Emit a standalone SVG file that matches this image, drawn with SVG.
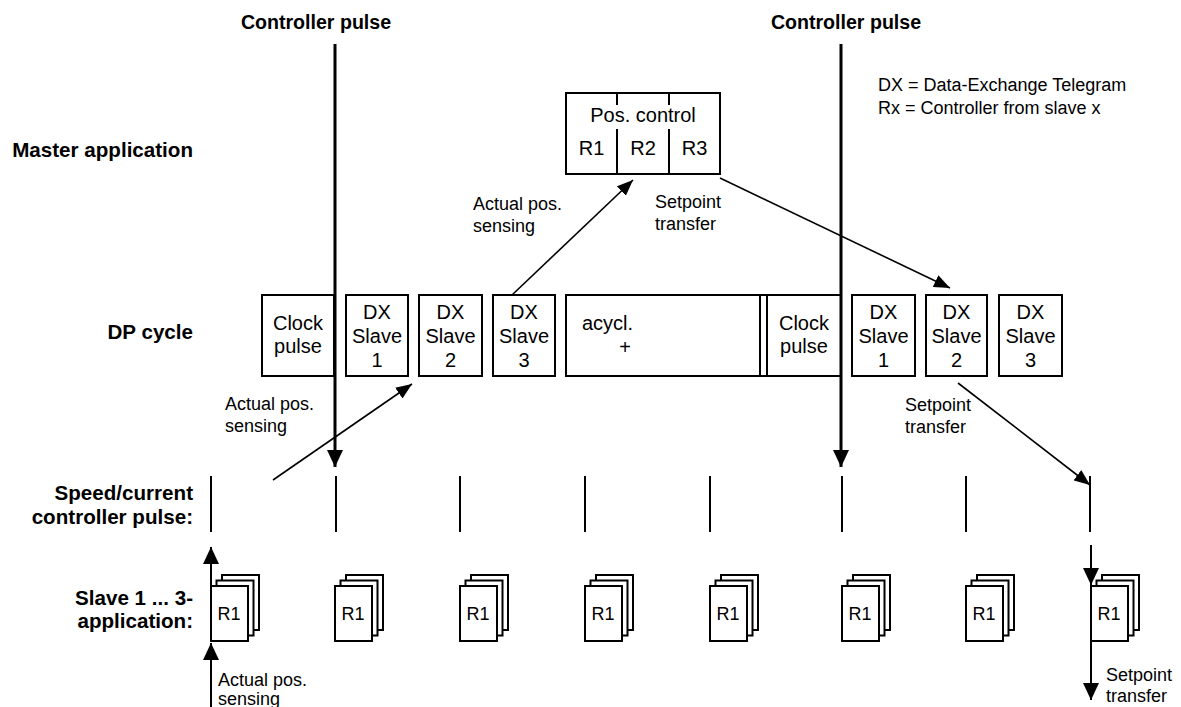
<svg xmlns="http://www.w3.org/2000/svg" width="1181" height="707" viewBox="0 0 1181 707">
<style>
text{font-family:"Liberation Sans",Arial,sans-serif;fill:#000}
.b{font-weight:bold;font-size:20.6px}
.t{font-size:20px;text-anchor:middle}
.s{font-size:18px}
.box{fill:#fff;stroke:#000;stroke-width:2}
.pg{fill:#fff;stroke:#000;stroke-width:2}
.thick{stroke:#000;stroke-width:3;fill:none}
.thin{stroke:#000;stroke-width:1.6;fill:none}
.tick{stroke:#000;stroke-width:2;fill:none}
</style>
<defs>
<marker id="big" markerUnits="userSpaceOnUse" viewBox="0 0 17 16" refX="17" refY="8" markerWidth="17" markerHeight="16" orient="auto"><path d="M0,0 L17,8 L0,16 z" fill="#000"/></marker>
<marker id="sm" markerUnits="userSpaceOnUse" viewBox="0 0 16 13" refX="16" refY="6.5" markerWidth="16" markerHeight="13" orient="auto"><path d="M0,0 L16,6.5 L0,13 z" fill="#000"/></marker>
</defs>
<rect width="1181" height="707" fill="#fff"/>

<g id="row-labels">
<text class="b" style="font-size:19.6px" x="316" y="29" text-anchor="middle">Controller pulse</text>
<text class="b" style="font-size:19.6px" x="846" y="29" text-anchor="middle">Controller pulse</text>
<text class="b" x="193" y="157" text-anchor="end">Master application</text>
<text class="b" x="193" y="339" text-anchor="end">DP cycle</text>
<text class="b" x="193" y="500" text-anchor="end">Speed/current</text>
<text class="b" x="193" y="524" text-anchor="end">controller pulse:</text>
<text class="b" x="193" y="605" text-anchor="end">Slave 1 ... 3-</text>
<text class="b" x="193" y="628" text-anchor="end">application:</text>
</g>

<g id="legend">
<text class="s" x="878" y="91">DX = Data-Exchange Telegram</text>
<text class="s" x="878" y="114">Rx = Controller from slave x</text>
</g>

<g id="pos-control">
<rect class="box" x="566" y="93" width="154" height="81"/>
<path class="tick" d="M617,93 V105 M669,93 V105 M617,129 V174 M669,129 V174"/>
<text class="t" x="643" y="122">Pos. control</text>
<text class="t" x="591.5" y="155">R1</text>
<text class="t" x="643" y="155">R2</text>
<text class="t" x="694.5" y="155">R3</text>
</g>

<g id="dp-cycle">
<g id="clock1"><rect class="box" x="262" y="295" width="72" height="81"/><text class="t" x="298" y="330">Clock</text><text class="t" x="298" y="353">pulse</text></g>
<g id="dx1a"><rect class="box" x="346" y="295" width="62" height="81"/><text class="t" x="377" y="319">DX</text><text class="t" x="377" y="343">Slave</text><text class="t" x="377" y="367">1</text></g>
<g id="dx2a"><rect class="box" x="419" y="295" width="63" height="81"/><text class="t" x="450.5" y="319">DX</text><text class="t" x="450.5" y="343">Slave</text><text class="t" x="450.5" y="367">2</text></g>
<g id="dx3a"><rect class="box" x="493" y="295" width="62" height="81"/><text class="t" x="524" y="319">DX</text><text class="t" x="524" y="343">Slave</text><text class="t" x="524" y="367">3</text></g>
<g id="acycl"><rect class="box" x="566" y="295" width="201" height="81"/><line class="tick" x1="760" y1="295" x2="760" y2="376"/><text style="font-size:20px" x="582" y="330">acycl.</text><text class="t" x="625" y="354">+</text></g>
<g id="clock2"><rect class="box" x="767" y="295" width="74" height="81"/><text class="t" x="804" y="330">Clock</text><text class="t" x="804" y="353">pulse</text></g>
<g id="dx1b"><rect class="box" x="852" y="295" width="63" height="81"/><text class="t" x="883.5" y="319">DX</text><text class="t" x="883.5" y="343">Slave</text><text class="t" x="883.5" y="367">1</text></g>
<g id="dx2b"><rect class="box" x="926" y="295" width="61" height="81"/><text class="t" x="956.5" y="319">DX</text><text class="t" x="956.5" y="343">Slave</text><text class="t" x="956.5" y="367">2</text></g>
<g id="dx3b"><rect class="box" x="999" y="295" width="63" height="81"/><text class="t" x="1030.5" y="319">DX</text><text class="t" x="1030.5" y="343">Slave</text><text class="t" x="1030.5" y="367">3</text></g>
</g>

<g id="ticks">
<path class="tick" d="M211,476 V532 M336,476 V532 M460,476 V532 M585,476 V532 M710,476 V532 M842,476 V532 M966,476 V532 M1090,476 V532"/>
</g>

<g id="slave-apps">
<g id="app1"><rect class="pg" x="222" y="575" width="37" height="55"/><rect class="pg" x="216.5" y="580.5" width="37" height="55"/><rect class="pg" x="211" y="586" width="37" height="55"/><text class="s" x="229" y="620" text-anchor="middle">R1</text></g>
<g id="app2"><rect class="pg" x="346" y="575" width="37" height="55"/><rect class="pg" x="340.5" y="580.5" width="37" height="55"/><rect class="pg" x="335" y="586" width="37" height="55"/><text class="s" x="353" y="620" text-anchor="middle">R1</text></g>
<g id="app3"><rect class="pg" x="471" y="575" width="37" height="55"/><rect class="pg" x="465.5" y="580.5" width="37" height="55"/><rect class="pg" x="460" y="586" width="37" height="55"/><text class="s" x="478" y="620" text-anchor="middle">R1</text></g>
<g id="app4"><rect class="pg" x="596" y="575" width="37" height="55"/><rect class="pg" x="590.5" y="580.5" width="37" height="55"/><rect class="pg" x="585" y="586" width="37" height="55"/><text class="s" x="603" y="620" text-anchor="middle">R1</text></g>
<g id="app5"><rect class="pg" x="721" y="575" width="37" height="55"/><rect class="pg" x="715.5" y="580.5" width="37" height="55"/><rect class="pg" x="710" y="586" width="37" height="55"/><text class="s" x="728" y="620" text-anchor="middle">R1</text></g>
<g id="app6"><rect class="pg" x="853" y="575" width="37" height="55"/><rect class="pg" x="847.5" y="580.5" width="37" height="55"/><rect class="pg" x="842" y="586" width="37" height="55"/><text class="s" x="860" y="620" text-anchor="middle">R1</text></g>
<g id="app7"><rect class="pg" x="977" y="575" width="37" height="55"/><rect class="pg" x="971.5" y="580.5" width="37" height="55"/><rect class="pg" x="966" y="586" width="37" height="55"/><text class="s" x="984" y="620" text-anchor="middle">R1</text></g>
<g id="app8"><rect class="pg" x="1102" y="575" width="37" height="55"/><rect class="pg" x="1096.5" y="580.5" width="37" height="55"/><rect class="pg" x="1091" y="586" width="37" height="55"/><text class="s" x="1109" y="620" text-anchor="middle">R1</text></g>
</g>

<g id="connectors">
<line class="thick" x1="335" y1="44" x2="335" y2="467" marker-end="url(#big)"/>
<line class="thick" x1="841" y1="44" x2="841" y2="467" marker-end="url(#big)"/>
<line class="thin" x1="273" y1="480" x2="412" y2="384" marker-end="url(#sm)"/>
<line class="thin" x1="512" y1="295" x2="633" y2="180" marker-end="url(#sm)"/>
<line class="thin" x1="720" y1="178" x2="950" y2="288" marker-end="url(#sm)"/>
<line class="thin" x1="958" y1="383" x2="1090" y2="485" marker-end="url(#sm)"/>
<line class="tick" x1="211" y1="586" x2="211" y2="547" marker-end="url(#big)"/>
<line class="tick" x1="211" y1="707" x2="211" y2="643" marker-end="url(#big)"/>
<line class="tick" x1="1091" y1="545" x2="1091" y2="585" marker-end="url(#big)"/>
<line class="tick" x1="1091" y1="641" x2="1091" y2="700" marker-end="url(#big)"/>
</g>

<g id="connector-labels">
<text class="s" x="225" y="410">Actual pos.</text>
<text class="s" x="225" y="432">sensing</text>
<text class="s" x="473" y="210">Actual pos.</text>
<text class="s" x="473" y="232">sensing</text>
<text class="s" x="655" y="208">Setpoint</text>
<text class="s" x="655" y="230">transfer</text>
<text class="s" x="905" y="411">Setpoint</text>
<text class="s" x="905" y="433">transfer</text>
<text class="s" x="218" y="686">Actual pos.</text>
<text class="s" x="218" y="705">sensing</text>
<text class="s" x="1106" y="681">Setpoint</text>
<text class="s" x="1106" y="702">transfer</text>
</g>
</svg>
